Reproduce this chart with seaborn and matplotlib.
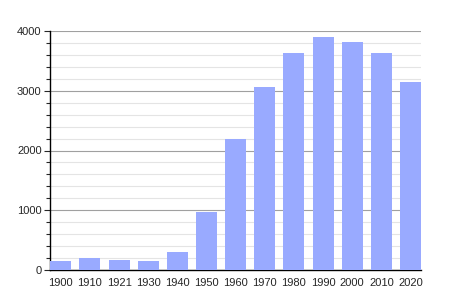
import matplotlib
matplotlib.use("Agg")
import matplotlib.pyplot as plt
import seaborn as sns
import pandas as pd
from matplotlib.ticker import MultipleLocator

years = ["1900", "1910", "1921", "1930", "1940", "1950", "1960", "1970", "1980", "1990", "2000", "2010", "2020"]
population = [156, 206, 173, 156, 306, 976, 2187, 3068, 3632, 3905, 3822, 3632, 3151]

df = pd.DataFrame({"year": years, "pop": population})

sns.set_style("white")
plt.rcParams['font.family'] = ['Liberation Sans', 'DejaVu Sans']

fig = plt.figure(figsize=(4.5, 3), dpi=100)
ax = fig.add_axes([50/450, 30/300, 371/450, 239/300])

sns.barplot(data=df, x="year", y="pop", color="#99aaff", saturation=1, width=0.72,
            linewidth=0, edgecolor="none", ax=ax, zorder=3)

ax.set_ylim(0, 4000)
ax.set_xlim(-0.37, 12.36)
ax.yaxis.set_major_locator(MultipleLocator(1000))
ax.yaxis.set_minor_locator(MultipleLocator(200))
ax.grid(which="major", axis="y", color="#a0a0a0", linewidth=0.8, zorder=0)
ax.grid(which="minor", axis="y", color="#e4e4e4", linewidth=0.8, zorder=0)
ax.set_axisbelow(True)

for s in ["top", "right"]:
    ax.spines[s].set_visible(False)
ax.spines["left"].set_color("black")
ax.spines["bottom"].set_color("black")
ax.spines["left"].set_linewidth(1)
ax.spines["bottom"].set_linewidth(1)

ax.tick_params(axis="y", which="major", left=True, length=4, width=0.8, labelsize=8, pad=2)
ax.tick_params(axis="y", which="minor", left=True, length=3, width=0.8)
ax.tick_params(axis="x", bottom=False, labelsize=8, pad=2)
ax.set_xlabel("")
ax.set_ylabel("")

fig.savefig("out.png", dpi=100)
